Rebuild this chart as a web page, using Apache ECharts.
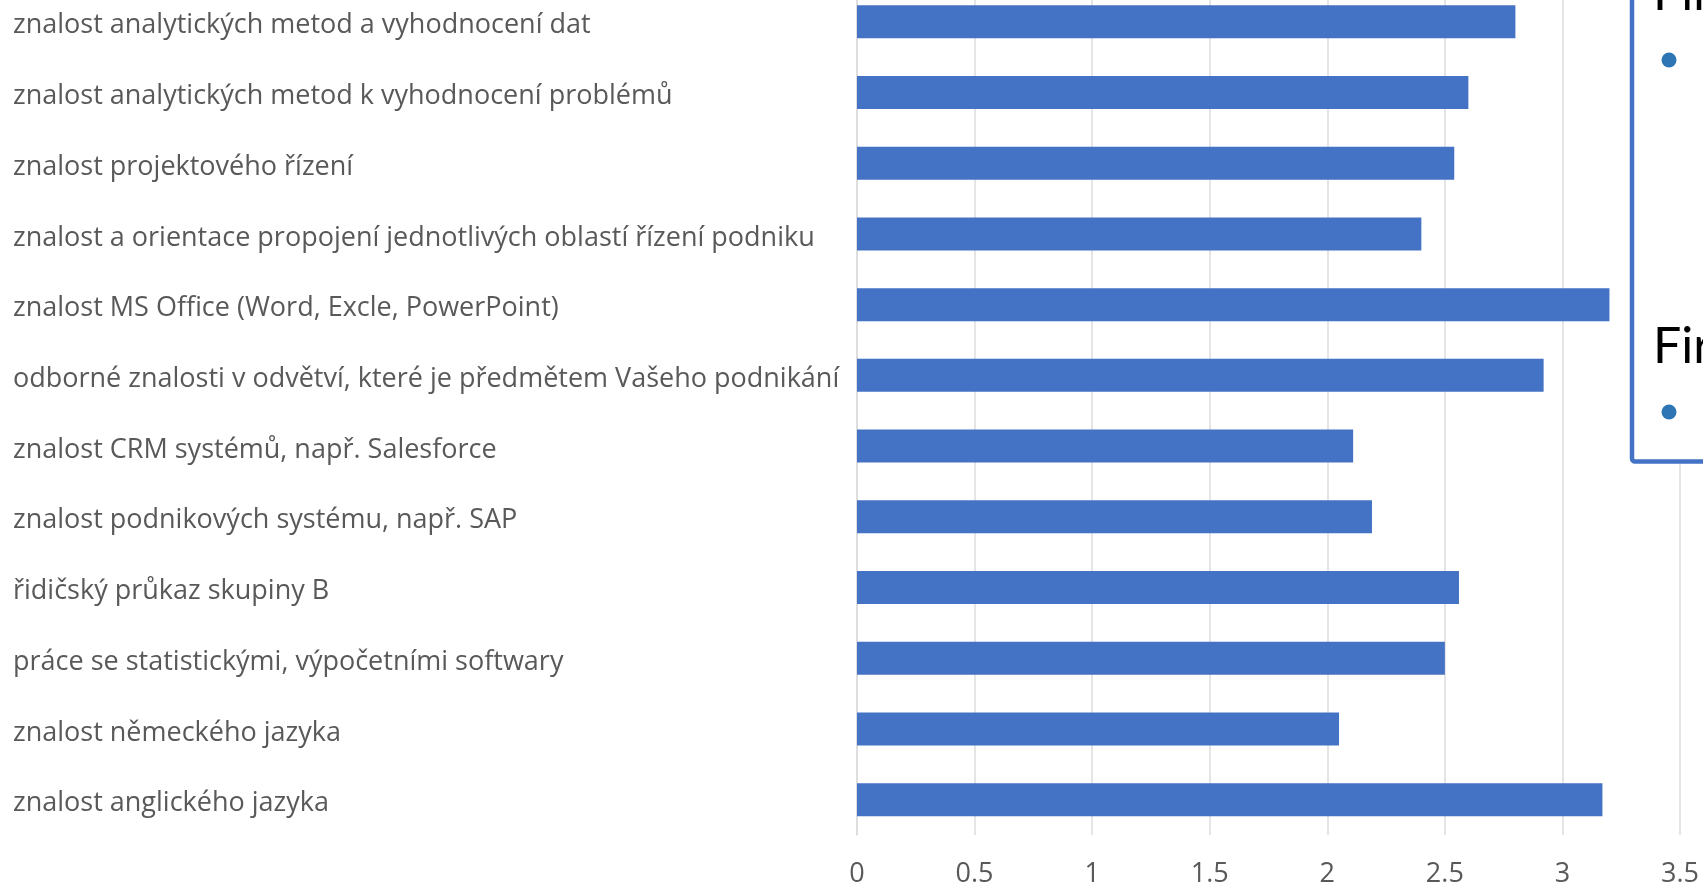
<!DOCTYPE html>
<html>
<head>
<meta charset="utf-8">
<script src="https://cdn.jsdelivr.net/npm/echarts@6/dist/echarts.min.js"></script>
<style>
html,body{margin:0;padding:0;background:#fff;}
#chart{width:1703px;height:888px;}
</style>
</head>
<body>
<div id="chart"></div>
<script>
const categories = [
  "znalost analytických metod a vyhodnocení dat",
  "znalost analytických metod k vyhodnocení problémů",
  "znalost projektového řízení",
  "znalost a orientace propojení jednotlivých oblastí řízení podniku",
  "znalost MS Office (Word, Excle, PowerPoint)",
  "odborné znalosti v odvětví, které je předmětem Vašeho podnikání",
  "znalost CRM systémů, např. Salesforce",
  "znalost podnikových systému, např. SAP",
  "řidičský průkaz skupiny B",
  "práce se statistickými, výpočetními softwary",
  "znalost německého jazyka",
  "znalost anglického jazyka"
];
const values = [2.80, 2.60, 2.54, 2.40, 3.20, 2.92, 2.11, 2.19, 2.56, 2.50, 2.05, 3.17];
const boxTitles = ["Firmy", "Firmy"];

const chart = echarts.init(document.getElementById('chart'));
const labelFont = '"Open Sans", "Noto Sans", sans-serif';
chart.setOption({
  animation: false,
  grid: { left: 857, right: 23, top: -13.6, bottom: 53, containLabel: false, outerBoundsMode: 'none' },
  xAxis: {
    type: 'value', min: 0, max: 3.5, interval: 0.5,
    axisLine: { show: false }, axisTick: { show: false },
    splitLine: { show: true, lineStyle: { color: '#dcdcdc', width: 1.5 } },
    axisLabel: { color: '#595959', fontSize: 27, fontFamily: labelFont, margin: 26 }
  },
  yAxis: {
    type: 'category', data: categories, inverse: true,
    axisLine: { show: true, lineStyle: { color: '#dcdcdc', width: 1.5 } },
    axisTick: { show: false },
    axisLabel: {
      align: 'left', margin: 844,
      formatter: function (v) { return '{a|' + v + '}'; },
      rich: { a: { color: '#595959', fontSize: 27, fontFamily: labelFont, padding: [8, 0, 0, 0] } }
    }
  },
  series: [{
    type: 'bar', data: values, barWidth: 33,
    itemStyle: { color: '#4472C4' }
  }],
  graphic: [
    { type: 'rect', z: 100, shape: { x: 1632, y: -20, width: 120, height: 481.5, r: 3 },
      style: { fill: '#ffffff', stroke: '#4472C4', lineWidth: 4.5 } },
    { type: 'text', z: 101, x: 1653, y: 19, style: { text: boxTitles[0], fill: '#000', font: '50px Lato, "Open Sans", sans-serif', verticalAlign: 'bottom' } },
    { type: 'circle', z: 101, shape: { cx: 1669, cy: 60, r: 7.5 }, style: { fill: '#2E75B6' } },
    { type: 'text', z: 101, x: 1653, y: 372, style: { text: boxTitles[1], fill: '#000', font: '50px Lato, "Open Sans", sans-serif', verticalAlign: 'bottom' } },
    { type: 'circle', z: 101, shape: { cx: 1669, cy: 412, r: 7.5 }, style: { fill: '#2E75B6' } }
  ]
});
</script>
</body>
</html>
